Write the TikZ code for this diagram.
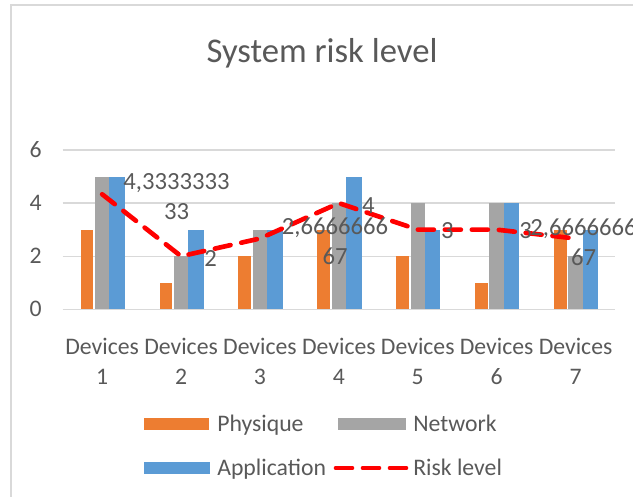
\documentclass[tikz,border=0pt]{standalone}
\usepackage{fontspec}
\setmainfont{Carlito}
\usepackage{tikz}
\usetikzlibrary{positioning}
\definecolor{txt}{HTML}{595959}
\definecolor{gridc}{HTML}{D9D9D9}
\definecolor{phys}{HTML}{ED7D31}
\definecolor{netw}{HTML}{A5A5A5}
\definecolor{appl}{HTML}{5B9BD5}
\definecolor{riskc}{HTML}{FF0000}

\begin{document}
\begin{tikzpicture}[x=0.75pt,y=-0.75pt,
	lbl/.style={text=txt,inner sep=0pt,font=\fontsize{17.8}{22}\selectfont},
	vlbl/.style={lbl,align=center,font=\fontsize{18.5}{22.5}\selectfont},
	riskline/.style={riskc,line width=3.5pt,line cap=round,dash pattern=on 12pt off 8.25pt}]
	\useasboundingbox (0,0) rectangle (633,497);
	\clip (0,0) rectangle (633,497);
	\draw[gridc,line width=1.5pt] (11,5) rectangle (700,560);
	\node[lbl,font=\fontsize{26}{30}\selectfont,anchor=base] (title) at (322,62) {System risk level};
	% grid and value axis
	\foreach \v in {0,2,4,6}{
		\draw[gridc,line width=1pt] (62.7,309.3-26.55*\v) -- (615,309.3-26.55*\v);
		\node[lbl,anchor=east] (tick\v) at (42,309.3-26.55*\v) {\v};
	}
	% bars: physique, network, application
	\foreach \i/\p/\n/\a/\r in {1/3/5/5/4.3333,2/1/2/3/2,3/2/3/3/2.6667,4/3/4/5/4,5/2/4/3/3,6/1/4/4/3,7/3/2/3/2.6667}{
		\pgfmathsetmacro\c{62.7+78.9*(\i-0.5)}
		\fill[phys] (\c-21.5,309.3) rectangle (\c-8.7,309.3-26.55*\p);
		\fill[netw] (\c-7.2,309.3) rectangle (\c+7.3,309.3-26.55*\n);
		\fill[appl] (\c+7.3,309.3) rectangle (\c+22.7,309.3-26.55*\a);
		\coordinate (r\i) at (\c,309.3-26.55*\r);
		\node[lbl,align=center,anchor=base] (dev\i) at (\c,384) {Devices\\\i};
	}
	\draw[riskline] (r1) -- (r2) -- (r3) -- (r4) -- (r5) -- (r6) -- (r7);
	% data labels
	\node[vlbl,right=15.75pt of r1,yshift=-1.5pt] (v1) {4,3333333\\33};
	\node[vlbl,right=17.25pt of r2,yshift=-1.5pt] (v2) {2};
	\node[vlbl,right=16.3pt of r3,yshift=-2pt] (v3) {2,6666666\\67};
	\node[vlbl,right=17.25pt of r4,yshift=-1.5pt] (v4) {4};
	\node[vlbl,right=17.25pt of r5,yshift=-0.5pt] (v5) {3};
	\node[vlbl,right=16.9pt of r6,yshift=-0.5pt] (v6) {3};
	\node[vlbl,left=-46pt of r7,yshift=-2.5pt] (v7) {2,6666666\\67};
	% legend
	\fill[phys] (144,418) rectangle (209,430);
	\node[lbl,anchor=base west] (lphys) at (217,431.5) {Physique};
	\fill[netw] (338,418) rectangle (406,430);
	\node[lbl,anchor=base west] (lnetw) at (413,431.5) {Network};
	\fill[appl] (144,462) rectangle (210,474);
	\node[lbl,anchor=base west] (lappl) at (217,475.5) {Application};
	\coordinate (ka) at (336,468);
	\coordinate (kb) at (406,468);
	\draw[riskline] (ka) -- (kb);
	\node[lbl,anchor=base west] (lrisk) at (413,475.5) {Risk level};
\end{tikzpicture}
\end{document}
